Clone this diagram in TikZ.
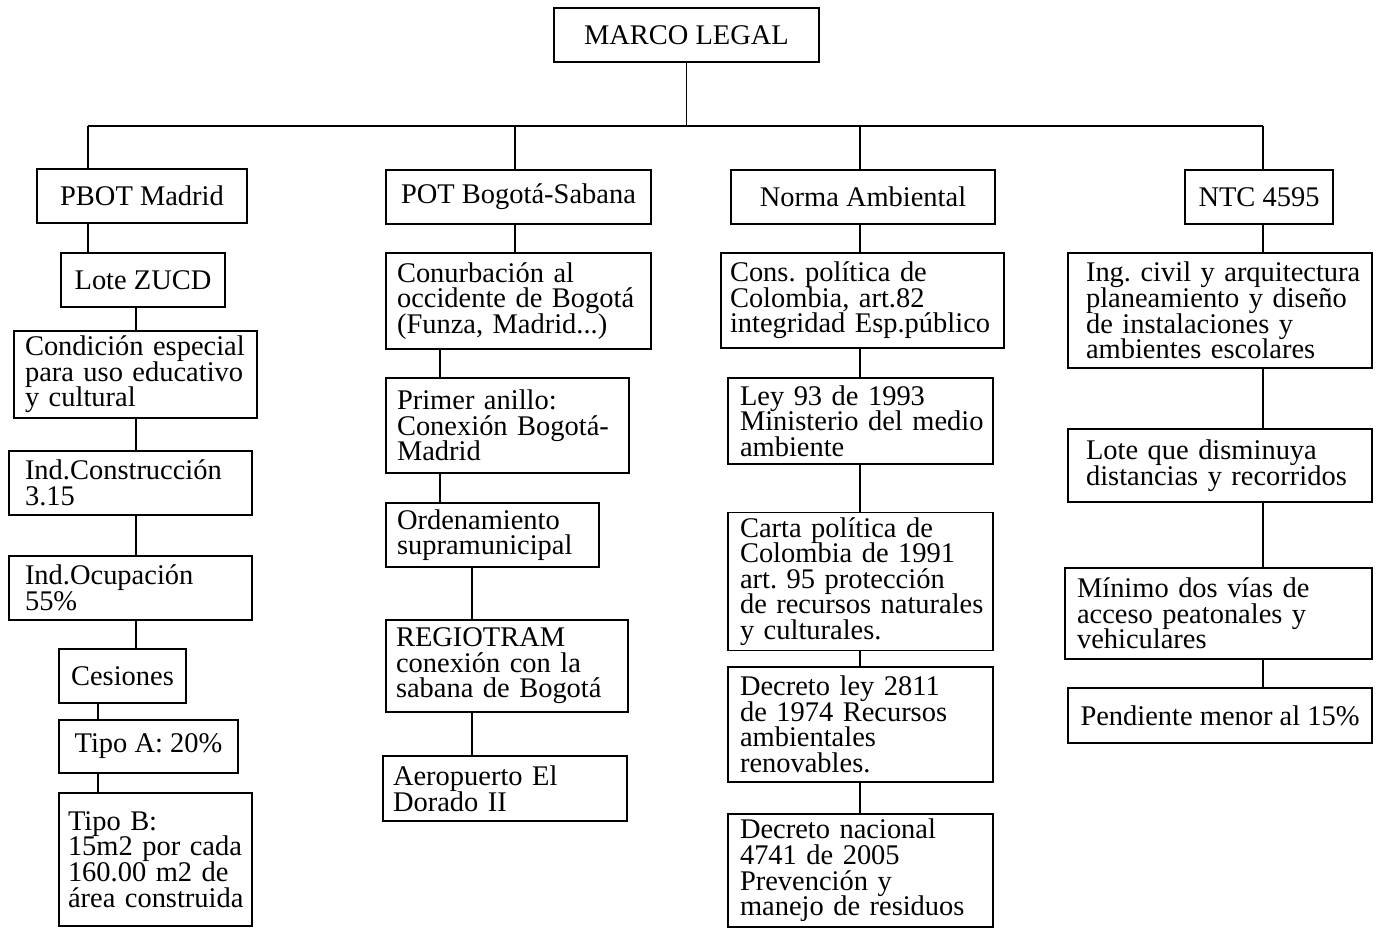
\documentclass[tikz,border=0pt]{standalone}
\usepackage{fontspec}
\setmainfont{Liberation Serif}
\newcommand\fuentecaja{\fontsize{16.2}{14.6}\selectfont\lineskiplimit=-50pt\frenchspacing\relax}
\begin{document}
\begin{tikzpicture}[x=0.02cm, y=-0.02cm,
    caja/.style={draw, line width=0.8pt, align=left, inner xsep=0.18cm, inner ysep=0.1cm, font=\fuentecaja},
    linea/.style={line width=0.8pt}]

      \useasboundingbox (0,0) rectangle (1377,928);

      \node[caja, minimum width=5.30cm, minimum height=1.08cm] (ml) at (686.5,35) {MARCO LEGAL};

      % columna 1
      \node[caja, minimum width=4.20cm, minimum height=1.08cm] (pbot) at (142,196) {PBOT Madrid};
      \node[caja, minimum width=3.28cm, minimum height=1.08cm] (lote) at (143,280) {Lote ZUCD};
      \node[caja, inner xsep=0.22cm, text width=4.42cm, minimum height=1.70cm] (cond) at (135.5,374.5)
        {\mbox{Condición especial}\\\mbox{para uso educativo}\\\mbox{y cultural}};
      \node[caja, inner xsep=0.32cm, text width=4.22cm, minimum height=1.28cm] (ic) at (130.5,483)
        {\mbox{Ind.Construcción}\\\mbox{3.15}};
      \node[caja, inner xsep=0.32cm, text width=4.22cm, minimum height=1.28cm] (io) at (130.5,588)
        {\mbox{Ind.Ocupación}\\\mbox{55\%}};
      \node[caja, minimum width=2.54cm, minimum height=1.08cm] (ces) at (122.5,676) {Cesiones};
      \node[caja, minimum width=3.58cm, minimum height=1.06cm] (ta) at (148.5,746.5) {Tipo A: 20\%};
      \node[caja, inner xsep=0.18cm, text width=3.50cm, minimum height=2.66cm] (tb) at (155.5,859.5)
        {\mbox{Tipo B:}\\\mbox{15m2 por cada}\\\mbox{160.00 m2 de}\\\mbox{área construida}};

      % columna 2
      \node[caja, minimum width=5.30cm, minimum height=1.08cm] (pot) at (518.5,197) {POT Bogotá-Sabana};
      \node[caja, inner xsep=0.22cm, text width=4.86cm, minimum height=1.92cm] (con) at (518.5,301)
        {\mbox{Conurbación al}\\\mbox{occidente de Bogotá}\\\mbox{(Funza, Madrid...)}};
      \node[caja, inner xsep=0.22cm, text width=4.42cm, minimum height=1.90cm] (pa) at (507.5,425.5)
        {\mbox{Primer anillo:}\\\mbox{Conexión Bogotá-}\\\mbox{Madrid}};
      \node[caja, inner xsep=0.22cm, text width=3.82cm, minimum height=1.28cm] (ord) at (492.5,535)
        {\mbox{Ordenamiento}\\\mbox{supramunicipal}};
      \node[caja, inner xsep=0.20cm, text width=4.44cm, minimum height=1.84cm] (reg) at (507,666)
        {\mbox{REGIOTRAM}\\\mbox{conexión con la}\\\mbox{sabana de Bogotá}};
      \node[caja, inner xsep=0.20cm, text width=4.48cm, minimum height=1.30cm] (aer) at (505,788.5)
        {\mbox{Aeropuerto El}\\\mbox{Dorado II}};

      % columna 3
      \node[caja, minimum width=5.28cm, minimum height=1.08cm] (na) at (863,197) {Norma Ambiental};
      \node[caja, inner xsep=0.18cm, text width=5.30cm, minimum height=1.90cm] (cp) at (862.5,300.5)
        {\mbox{Cons. política de}\\\mbox{Colombia, art.82}\\\mbox{integridad Esp.público}};
      \node[caja, inner xsep=0.24cm, text width=4.82cm, minimum height=1.72cm] (ley) at (860.5,421)
        {\mbox{Ley 93 de 1993}\\\mbox{Ministerio del medio}\\\mbox{ambiente}};
      \node[caja, inner xsep=0.24cm, text width=4.82cm, minimum height=2.70cm] (carta) at (860.5,581.5)
        {\mbox{Carta política de}\\\mbox{Colombia de 1991}\\\mbox{art. 95 protección}\\\mbox{de recursos naturales}\\\mbox{y culturales.}};
      \node[caja, inner xsep=0.24cm, text width=4.82cm, minimum height=2.30cm] (dl) at (860.5,724.5)
        {\mbox{Decreto ley 2811}\\\mbox{de 1974 Recursos}\\\mbox{ambientales}\\\mbox{renovables.}};
      \node[caja, inner xsep=0.24cm, text width=4.82cm, minimum height=2.22cm] (dn) at (860.5,870.5)
        {\mbox{Decreto nacional}\\\mbox{4741 de 2005}\\\mbox{Prevención y}\\\mbox{manejo de residuos}};

      % columna 4
      \node[caja, minimum width=2.96cm, minimum height=1.08cm] (ntc) at (1259,197) {NTC 4595};
      \node[caja, inner xsep=0.36cm, text width=5.36cm, minimum height=2.30cm] (ing) at (1220,310.5)
        {\mbox{Ing. civil y arquitectura}\\\mbox{planeamiento y diseño}\\\mbox{de instalaciones y}\\\mbox{ambientes escolares}};
      \node[caja, inner xsep=0.36cm, text width=5.36cm, minimum height=1.46cm] (lq) at (1220,465.5)
        {\mbox{Lote que disminuya}\\\mbox{distancias y recorridos}};
      \node[caja, inner xsep=0.24cm, text width=5.66cm, minimum height=1.82cm] (mv) at (1218.5,613.5)
        {\mbox{Mínimo dos vías de}\\\mbox{acceso peatonales y}\\\mbox{vehiculares}};
      \node[caja, minimum width=6.08cm, minimum height=1.10cm] (pend) at (1220,715.5) {Pendiente menor al 15\%};

      \coordinate (b1) at (88,126);
      \coordinate (b2) at (515,126);
      \coordinate (b3) at (860,126);
      \coordinate (b4) at (1263,126);
      \coordinate (k1) at (136,0);
      \coordinate (k2) at (98,0);
      \coordinate (k3) at (440,0);
      \coordinate (k4) at (472,0);

      \path[linea]
      (ml.south) edge (ml.south |- b1)
      (b1) edge (b4)

      (b1) edge (pbot.north -| b1)
      (pbot.south -| b1) edge (lote.north -| b1)
      (lote.south -| k1) edge (cond.north -| k1)
      (cond.south -| k1) edge (ic.north -| k1)
      (ic.south -| k1) edge (io.north -| k1)
      (io.south -| k1) edge (ces.north -| k1)
      (ces.south -| k2) edge (ta.north -| k2)
      (ta.south -| k2) edge (tb.north -| k2)

      (b2) edge (pot.north -| b2)
      (pot.south -| b2) edge (con.north -| b2)
      (con.south -| k3) edge (pa.north -| k3)
      (pa.south -| k3) edge (ord.north -| k3)
      (ord.south -| k4) edge (reg.north -| k4)
      (reg.south -| k4) edge (aer.north -| k4)

      (b3) edge (na.north -| b3)
      (na.south -| b3) edge (cp.north -| b3)
      (cp.south -| b3) edge (ley.north -| b3)
      (ley.south -| b3) edge (carta.north -| b3)
      (carta.south -| b3) edge (dl.north -| b3)
      (dl.south -| b3) edge (dn.north -| b3)

      (b4) edge (ntc.north -| b4)
      (ntc.south -| b4) edge (ing.north -| b4)
      (ing.south -| b4) edge (lq.north -| b4)
      (lq.south -| b4) edge (mv.north -| b4)
      (mv.south -| b4) edge (pend.north -| b4);
    \end{tikzpicture}
\end{document}
